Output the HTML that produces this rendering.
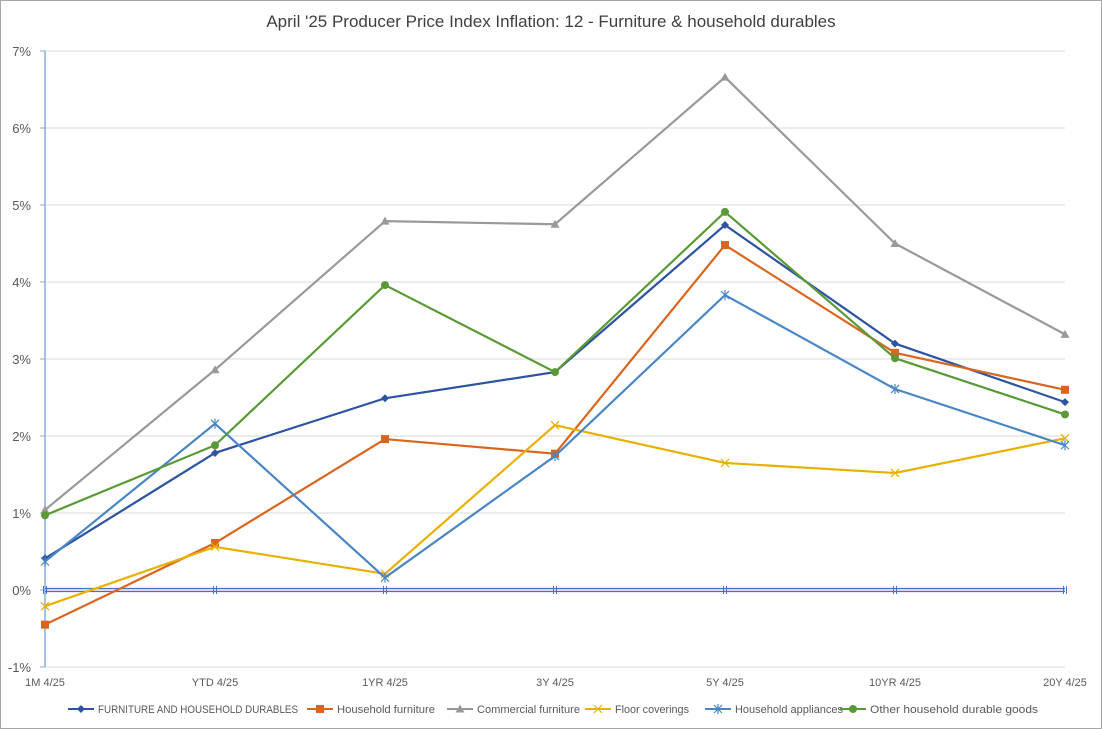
<!DOCTYPE html>
<html><head><meta charset="utf-8"><style>
body{margin:0;background:#fff;}
svg{display:block;font-family:"Liberation Sans",sans-serif;}
</style></head><body>
<svg id="chart" width="1102" height="729">
<rect x="0.5" y="0.5" width="1101" height="728" fill="#fff" stroke="#a6a6a6"/>
<text x="551" y="27" text-anchor="middle" font-size="17" fill="#404040">April '25 Producer Price Index Inflation: 12 - Furniture &amp; household durables</text>
<g id="grid"></g><g id="series"></g><g id="legend"></g>
</svg>
<script>
const categories=["1M 4/25","YTD  4/25","1YR 4/25","3Y 4/25","5Y 4/25","10YR  4/25","20Y 4/25"];
const yTicks=[-1,0,1,2,3,4,5,6,7];
const seriesNames=["FURNITURE AND HOUSEHOLD DURABLES","Household furniture","Commercial furniture","Floor coverings","Household appliances","Other household durable goods"];
const furniture=[0.41,1.78,2.49,2.83,4.74,3.20,2.44];
const householdFurniture=[-0.45,0.61,1.96,1.77,4.48,3.08,2.60];
const commercialFurniture=[1.04,2.86,4.79,4.75,6.66,4.50,3.32];
const floorCoverings=[-0.21,0.56,0.21,2.14,1.65,1.52,1.97];
const appliances=[0.37,2.16,0.16,1.74,3.83,2.61,1.88];
const otherDurables=[0.97,1.88,3.96,2.83,4.91,3.01,2.28];
const allSeries=[furniture,householdFurniture,commercialFurniture,floorCoverings,appliances,otherDurables];
const colors=["#2e54a1","#d9661f","#999999","#e8b000","#4a86c5","#5a9a36"];
const markers=["diamond","square","triangle","x","star","circle"];
const NS="http://www.w3.org/2000/svg";
const x0=45,x1=1065,yTop=51,yBot=667,vmin=-1,vmax=7;
const xs=i=>x0+i*(x1-x0)/(categories.length-1);
const ys=v=>yBot-(v-vmin)*(yBot-yTop)/(vmax-vmin);
function mk(tag,attrs,parent){const e=document.createElementNS(NS,tag);for(const k in attrs)e.setAttribute(k,attrs[k]);parent.appendChild(e);return e;}
const grid=document.getElementById('grid');
yTicks.forEach(t=>{
  const g=mk('line',{x1:x0,x2:x1,y1:ys(t),y2:ys(t),stroke:'#d9d9d9','stroke-width':1},grid);
  
  
  const tk=mk('line',{x1:x0-5,x2:x0,y1:ys(t),y2:ys(t),stroke:'#8eaadb'},grid);
  
  
  const l=mk('text',{x:31,y:ys(t)+5,'text-anchor':'end','font-size':13,fill:'#595959'},grid);
  l.textContent=t+'%';
  
  
});
const ax=mk('line',{x1:x0,x2:x0,y1:yTop,y2:yBot,stroke:'#8eaadb','stroke-width':1.5},grid);


[-1.5,1.5].forEach(d=>{
  const z=mk('line',{x1:x0,x2:x1,y1:ys(0)+d,y2:ys(0)+d,stroke:'#4472c4','stroke-width':1.2},grid);
  
  
});
categories.forEach((c,i)=>{
  [-1.5,1.5].forEach(d=>{
    const m=mk('line',{x1:xs(i)+d,x2:xs(i)+d,y1:ys(0)-4,y2:ys(0)+4,stroke:'#4472c4','stroke-width':1},grid);
    
    
  });
  const l=mk('text',{x:xs(i),y:686,'text-anchor':'middle','font-size':11,fill:'#595959'},grid);
  l.textContent=c;
  
  
});
function marker(type,x,y,c,p){
  let e;
  if(type=='diamond')e=mk('path',{d:`M${x} ${y-4}L${x+4} ${y}L${x} ${y+4}L${x-4} ${y}Z`,fill:c},p);
  else if(type=='square')e=mk('rect',{x:x-4,y:y-4,width:8,height:8,fill:c},p);
  else if(type=='triangle')e=mk('path',{d:`M${x} ${y-4.5}L${x+4.5} ${y+3.5}L${x-4.5} ${y+3.5}Z`,fill:c},p);
  else if(type=='circle')e=mk('circle',{cx:x,cy:y,r:4,fill:c},p);
  else if(type=='x')e=mk('path',{d:`M${x-4} ${y-4}L${x+4} ${y+4}M${x+4} ${y-4}L${x-4} ${y+4}`,stroke:c,'stroke-width':1.2},p);
  else e=mk('path',{d:`M${x-4} ${y-4}L${x+4} ${y+4}M${x+4} ${y-4}L${x-4} ${y+4}M${x} ${y-5}L${x} ${y+5}`,stroke:c,'stroke-width':1.2},p);
  return e;
}
const sg=document.getElementById('series');
allSeries.forEach((arr,si)=>{
  const g=mk('g',{},sg);
  
  
  const pl=mk('polyline',{points:arr.map((v,i)=>xs(i)+','+ys(v)).join(' '),fill:'none',stroke:colors[si],'stroke-width':2.2},g);
  
  
  arr.forEach((v,i)=>{
    const m=marker(markers[si],xs(i),ys(v),colors[si],g);
    
    
  });
});
const lg=document.getElementById('legend');
const lx=[68,307,447,585,705,840];
const lw=[200,98,103,74,108,168];
seriesNames.forEach((n,si)=>{
  const g=mk('g',{},lg);
  
  
  mk('line',{x1:lx[si],x2:lx[si]+26,y1:709,y2:709,stroke:colors[si],'stroke-width':2},g);
  marker(markers[si],lx[si]+13,709,colors[si],g);
  const t=mk('text',{x:lx[si]+30,y:713,'font-size':11,fill:'#595959',textLength:lw[si],lengthAdjust:'spacingAndGlyphs'},g);
  t.textContent=n;
});
</script>
</body></html>
